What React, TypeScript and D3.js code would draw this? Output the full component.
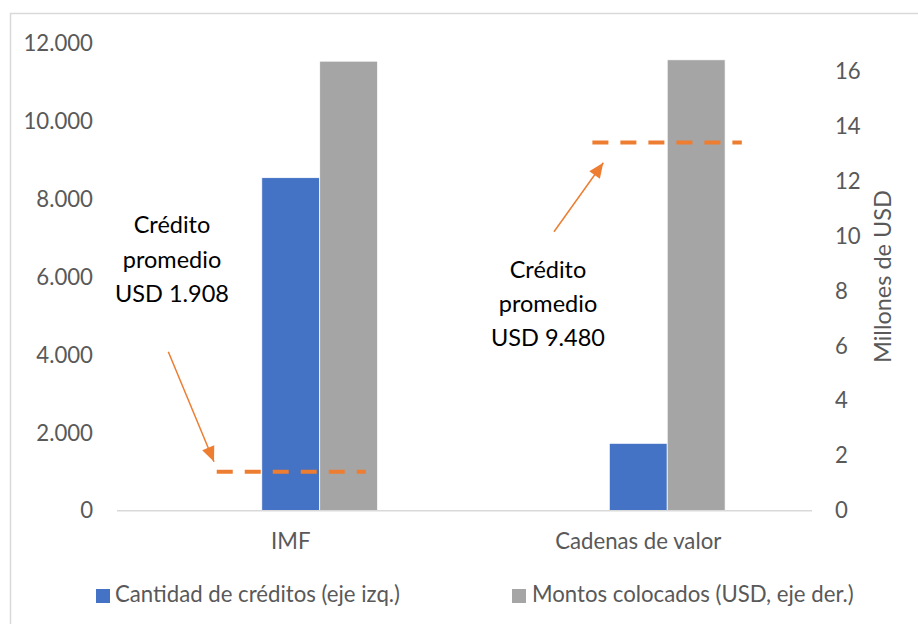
import React from 'react';
import * as d3 from 'd3';

// chart values
const categories = ['IMF', 'Cadenas de valor'];
const cantidadCreditos = [8550, 1730];       // left axis
const montosColocados = [16.35, 16.4];       // right axis, millones USD
const creditoPromedio = [1000, 9450];        // dashed marker, left axis position
const leftTicks = [0, 2000, 4000, 6000, 8000, 10000, 12000];
const rightTicks = [0, 2, 4, 6, 8, 10, 12, 14, 16];
const annotations = [
    ['Crédito', 'promedio', 'USD 1.908'],
    ['Crédito', 'promedio', 'USD 9.480'],
];
const legendLabels = ['Cantidad de créditos (eje izq.)', 'Montos colocados (USD, eje der.)'];

// layout bits
const W = 918, H = 624;
const plot = {left: 117, right: 812, top: 43.3, bottom: 510.7};
const FONT = 'Lato, "Open Sans", sans-serif';
const FS = 22.2;
const GRAY_TEXT = '#595959';
const BLUE = '#4472C4', GREY = '#A5A5A5', ORANGE = '#ED7D31';
// dashed marker extent as fraction of band
const markerSpan = [[0.287, 0.716], [0.368, 0.798]];
const annotationPos = [{x: 172, y: [233, 267.5, 302]}, {x: 548, y: [278, 312, 346]}];
const arrows = [
    {from: [168.3, 351.7], to: [214, 461.7]},
    {from: [554, 231.7], to: [603.3, 162.7]},
];

const fmt = (v: number) => d3.format(',')(v).replace(/,/g, '.');

function arrowHead(from: number[], to: number[], len = 15, half = 6.5) {
    const dx = to[0] - from[0], dy = to[1] - from[1];
    const d = Math.hypot(dx, dy);
    const ux = dx / d, uy = dy / d;
    const bx = to[0] - ux * len, by = to[1] - uy * len;
    return `M${to[0]},${to[1]}L${bx - uy * half},${by + ux * half}L${bx + uy * half},${by - ux * half}Z`;
}

export default function App() {
    const x = d3.scaleBand().domain(categories).range([plot.left, plot.right]).paddingInner(0).paddingOuter(0);
    const series = ['blank', 'count', 'amount'];
    const x1 = d3.scaleBand().domain(series).range([0, x.bandwidth()]).paddingInner(0).paddingOuter(1.5);
    const yL = d3.scaleLinear().domain([0, 12000]).range([plot.bottom, plot.top]);
    const yR = d3.scaleLinear().domain([0, 17]).range([plot.bottom, plot.top]);

    return (
        <div style={{position: 'fixed', left: 0, top: 0, width: W, height: H, background: '#fff'}}>
            <svg width={W} height={H} style={{display: 'block'}} fontFamily={FONT}>
                <rect x={10.5} y={13.5} width={W} height={H} fill="#fff" stroke="#d9d9d9" strokeWidth={1.5}/>

                {/* left axis labels */}
                {leftTicks.map(t => (
                    <text key={'l' + t} x={93} y={yL(t)} dy="0.35em" textAnchor="end" fontSize={FS} fill={GRAY_TEXT}>
                        {fmt(t)}
                    </text>
                ))}
                {/* right axis labels */}
                {rightTicks.map(t => (
                    <text key={'r' + t} x={835} y={yR(t)} dy="0.35em" textAnchor="start" fontSize={FS} fill={GRAY_TEXT}>
                        {t}
                    </text>
                ))}
                <text transform="translate(891,276.5) rotate(-90)" textAnchor="middle" fontSize={23.5} fill={GRAY_TEXT}>
                    Millones de USD
                </text>

                {/* bars */}
                {categories.map((c, i) => (
                    <g key={c} transform={`translate(${x(c)},0)`}>
                        <rect x={x1('count')} y={yL(cantidadCreditos[i])} width={x1.bandwidth()}
                              height={plot.bottom - yL(cantidadCreditos[i])} fill={BLUE} stroke="#fff" strokeWidth={0.75}/>
                        <rect x={x1('amount')} y={yR(montosColocados[i])} width={x1.bandwidth()}
                              height={plot.bottom - yR(montosColocados[i])} fill={GREY} stroke="#fff" strokeWidth={0.75}/>
                    </g>
                ))}

                <line x1={plot.left} x2={plot.right} y1={plot.bottom} y2={plot.bottom} stroke="#d9d9d9" strokeWidth={1.5}/>

                {/* category labels */}
                {categories.map(c => (
                    <text key={'c' + c} x={(x(c) as number) + x.bandwidth() / 2} y={548.5} textAnchor="middle"
                          fontSize={FS} fill={GRAY_TEXT}>{c}</text>
                ))}

                {/* dashed average markers */}
                {categories.map((c, i) => (
                    <line key={'m' + c}
                          x1={(x(c) as number) + x.bandwidth() * markerSpan[i][0]}
                          x2={(x(c) as number) + x.bandwidth() * markerSpan[i][1]}
                          y1={yL(creditoPromedio[i])} y2={yL(creditoPromedio[i])}
                          stroke={ORANGE} strokeWidth={4} strokeDasharray="16 12"/>
                ))}

                {/* arrows */}
                {arrows.map((a, i) => (
                    <g key={'a' + i}>
                        <line x1={a.from[0]} y1={a.from[1]} x2={a.to[0]} y2={a.to[1]} stroke={ORANGE} strokeWidth={1.5}/>
                        <path d={arrowHead(a.from, a.to)} fill={ORANGE}/>
                    </g>
                ))}

                {/* annotations */}
                {annotations.map((lines, i) => (
                    <text key={'t' + i} textAnchor="middle" fontSize={23.5} fill="#000">
                        {lines.map((l, j) => (
                            <tspan key={j} x={annotationPos[i].x} y={annotationPos[i].y[j]}>{l}</tspan>
                        ))}
                    </text>
                ))}

                {/* legend */}
                <rect x={96} y={589} width={14} height={14} fill={BLUE}/>
                <text x={115} y={601.5} fontSize={FS} fill={GRAY_TEXT}>{legendLabels[0]}</text>
                <rect x={512} y={589} width={14} height={14} fill={GREY}/>
                <text x={532} y={601.5} fontSize={FS} fill={GRAY_TEXT}>{legendLabels[1]}</text>
            </svg>
        </div>
    );
}
